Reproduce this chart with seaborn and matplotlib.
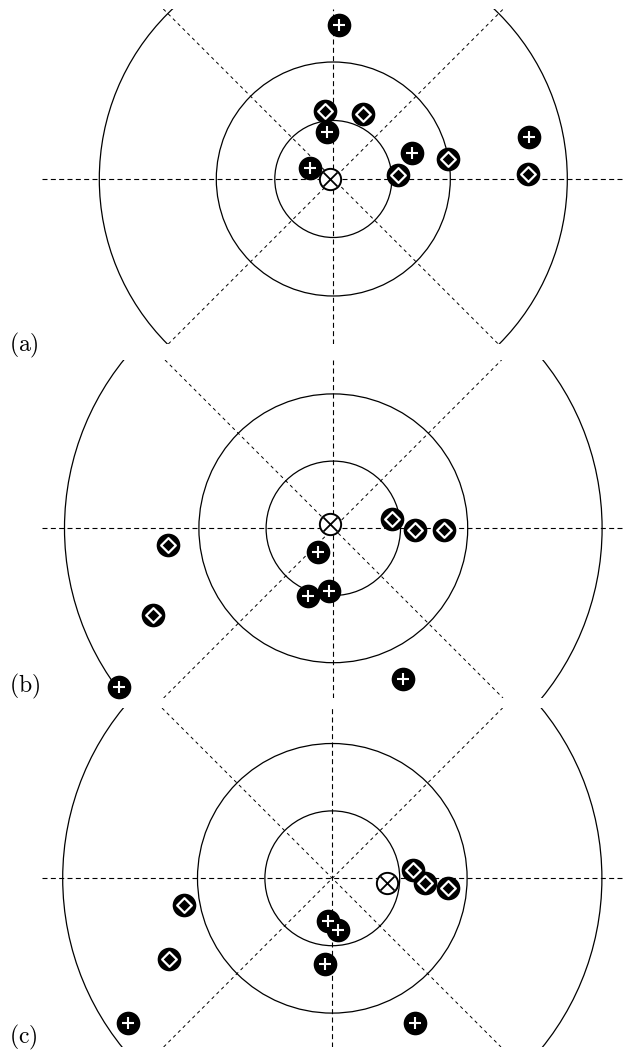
import pandas as pd
import seaborn as sns
import matplotlib.pyplot as plt
from matplotlib.patches import Circle

# ---- data (units of the inner ring radius) ----
rings = [1, 2, 4]

# panel (a)
a_plus_x = [0.09, -0.11, -0.40, 1.35, 3.35]
a_plus_y = [2.63, 0.80, 0.19, 0.44, 0.71]
a_diam_x = [-0.15, 0.51, 1.11, 1.96, 3.32]
a_diam_y = [1.17, 1.11, 0.07, 0.34, 0.09]
a_ref_x = [-0.06]
a_ref_y = [0.00]

# panel (b)
b_plus_x = [-0.23, -0.37, -0.06, 1.04, -3.19]
b_plus_y = [-0.36, -1.01, -0.94, -2.24, -2.36]
b_diam_x = [0.88, 1.22, 1.65, -2.46, -2.69]
b_diam_y = [0.14, -0.03, -0.02, -0.25, -1.29]
b_ref_x = [-0.05]
b_ref_y = [0.07]

# panel (c)
c_plus_x = [-0.07, 0.09, -0.11, 1.23, -3.03]
c_plus_y = [-0.64, -0.76, -1.27, -2.14, -2.15]
c_diam_x = [1.19, 1.38, 1.72, -2.20, -2.43]
c_diam_y = [0.12, -0.07, -0.15, -0.39, -1.19]
c_ref_x = [0.81]
c_ref_y = [-0.07]

labels = ["(a)", "(b)", "(c)"]

sns.set_theme(style="white")
plt.rcParams["mathtext.fontset"] = "cm"

W, H = 627, 1055
fig = plt.figure(figsize=(W / 100, H / 100), dpi=100)

# layout in pixels: centre, px per unit, axes top/bottom, label y
layout = [
    ((333.3, 179.0), 58.5, (9, 344), 345),
    ((333.3, 528.3), 67.2, (360, 698), 686),
    ((332.3, 878.3), 67.4, (708, 1047), 1037),
]
x_left, x_right = 41.7, 625

series = [
    (a_plus_x, a_plus_y, a_diam_x, a_diam_y, a_ref_x, a_ref_y),
    (b_plus_x, b_plus_y, b_diam_x, b_diam_y, b_ref_x, b_ref_y),
    (c_plus_x, c_plus_y, c_diam_x, c_diam_y, c_ref_x, c_ref_y),
]

dash = dict(color="black", lw=0.8, linestyle=(0, (4.5, 3)), zorder=1)
diag = dict(color="black", lw=0.7, linestyle=(0, (3.5, 3.5)), zorder=1)

for lab, (px, py, dx, dy, rx, ry), ((cx, cy), s, (yt, yb), ly) in zip(labels, series, layout):
    ax = fig.add_axes([x_left / W, 1 - yb / H, (x_right - x_left) / W, (yb - yt) / H])
    ax.set_xlim((x_left - cx) / s, (x_right - cx) / s)
    ax.set_ylim((cy - yb) / s, (cy - yt) / s)
    ax.axis("off")

    for r in rings:
        ax.add_patch(Circle((0, 0), r, fill=False, ec="black", lw=0.9, zorder=1))
    ax.axhline(0, **dash)
    ax.axvline(0, **dash)
    ax.axline((0, 0), slope=1, **diag)
    ax.axline((0, 0), slope=-1, **diag)

    diam = pd.DataFrame({"x": dx, "y": dy})
    plus = pd.DataFrame({"x": px, "y": py})
    ref = pd.DataFrame({"x": rx, "y": ry})

    # diamonds: black disc with white diamond
    sns.scatterplot(data=diam, x="x", y="y", marker="o", s=290, facecolors="black",
                    edgecolors="black", linewidth=0, ax=ax, legend=False, zorder=3, clip_on=False)
    sns.scatterplot(data=diam, x="x", y="y", marker="D", s=56, facecolors="black",
                    edgecolors="white", linewidth=1.6, ax=ax, legend=False, zorder=4, clip_on=False)
    # plus: black disc with white cross
    sns.scatterplot(data=plus, x="x", y="y", marker="o", s=290, facecolors="black",
                    edgecolors="black", linewidth=0, ax=ax, legend=False, zorder=5, clip_on=False)
    sns.scatterplot(data=plus, x="x", y="y", marker="+", s=85, color="white",
                    linewidth=1.5, ax=ax, legend=False, zorder=6, clip_on=False)
    # reference: open circle with x
    sns.scatterplot(data=ref, x="x", y="y", marker="o", s=235, facecolors="white",
                    edgecolors="black", linewidth=1.4, ax=ax, legend=False, zorder=7, clip_on=False)
    sns.scatterplot(data=ref, x="x", y="y", marker="x", s=100, color="black",
                    linewidth=1.3, ax=ax, legend=False, zorder=8, clip_on=False)
    ax.set_xlabel("")
    ax.set_ylabel("")

    fig.text(9 / W, 1 - ly / H, r"$\mathrm{" + lab + "}$", fontsize=17,
             ha="left", va="center", color="black")

fig.savefig("out.png", dpi=100)
